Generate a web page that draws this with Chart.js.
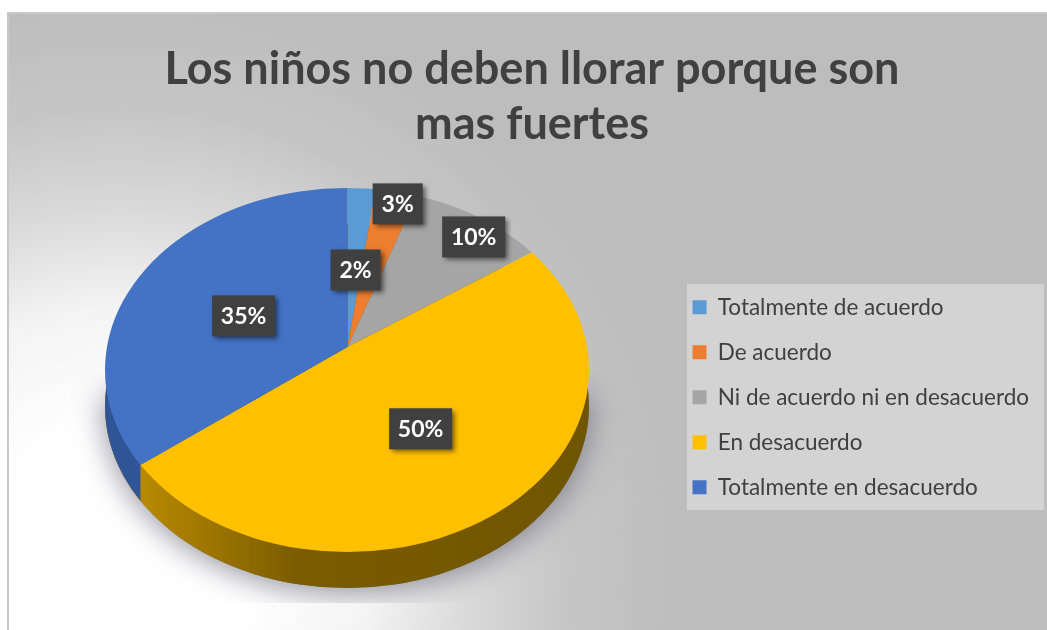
<!DOCTYPE html>
<html>
<head>
<meta charset="utf-8">
<style>
  html, body { margin: 0; padding: 0; background: #fff; overflow: hidden; }
  #wrap { position: absolute; left: 0; top: 0; width: 1047px; height: 630px; }
</style>
<script src="https://cdn.jsdelivr.net/npm/chart.js@4"></script>
</head>
<body>
<div id="wrap"><canvas id="pieChart" width="1047" height="630"></canvas></div>
<script>
const categories = [
  'Totalmente de acuerdo',
  'De acuerdo',
  'Ni de acuerdo ni en desacuerdo',
  'En desacuerdo',
  'Totalmente en desacuerdo'
];
const percentValues = [2, 3, 10, 50, 35];
const sliceColors = ['#5b9bd5', '#ed7d31', '#a5a5a5', '#ffc000', '#4472c4'];
const titleLines = ['Los niños no deben llorar porque son', 'mas fuertes'];

// how far out along each slice its label sits
const labelFractionX = [0.53, 0.95, 0.887, 0.514, 0.482];
const labelFractionY = [0.451, 0.857, 0.795, 0.533, 0.40];

// look of the tilted disc
const disc = { cx: 347, cy: 370, rx: 242, ry: 182, depth: 36 };
const squashUp = 0.707;
const squashDown = 0.784;

function ellipsePath(ctx, dy) {
  ctx.beginPath();
  ctx.ellipse(disc.cx, disc.cy + (dy || 0), disc.rx, disc.ry, 0, 0, Math.PI * 2);
}

// where a slice edge leaves the disc outline
function rimX(arc, angle) {
  let r = 0;
  while (r < 600) {
    const x = arc.x + Math.cos(angle) * r;
    const y = arc.y + Math.sin(angle) * r * (Math.sin(angle) > 0 ? squashDown : squashUp);
    const a = (x - disc.cx) / disc.rx, b = (y - disc.cy) / disc.ry;
    if (a * a + b * b > 1) return x;
    r += 0.5;
  }
  return arc.x;
}

const backdrop = {
  id: 'backdrop',
  beforeDraw(chart) {
    const ctx = chart.ctx;
    const bg = ctx.createRadialGradient(120, 560, 130, 120, 560, 560);
    bg.addColorStop(0, '#ffffff');
    bg.addColorStop(0.28, '#f4f4f4');
    bg.addColorStop(0.51, '#dadada');
    bg.addColorStop(0.74, '#c6c6c6');
    bg.addColorStop(1, '#bdbdbd');
    ctx.fillStyle = bg;
    ctx.fillRect(8, 13, 1039, 617);
    ctx.strokeStyle = '#c8c8c8';
    ctx.lineWidth = 2;
    ctx.strokeRect(8, 13, 1041, 621);

    // legend panel
    ctx.fillStyle = '#d3d3d3';
    ctx.fillRect(687, 284, 357, 226);
  }
};

// shadow fades in from the disc's middle and is cut flat at the bottom
function drawShadow(ctx) {
  const off = document.createElement('canvas');
  off.width = 1047;
  off.height = 630;
  const o = off.getContext('2d');
  o.shadowColor = 'rgba(85,85,105,0.65)';
  o.shadowBlur = 30;
  o.shadowOffsetY = 4;
  o.fillStyle = '#777';
  ellipsePath(o, disc.depth);
  o.fill();
  o.shadowColor = 'transparent';
  o.globalCompositeOperation = 'destination-in';
  const fade = o.createLinearGradient(0, disc.cy, 0, disc.cy + 45);
  fade.addColorStop(0, 'rgba(0,0,0,0)');
  fade.addColorStop(1, 'rgba(0,0,0,1)');
  o.fillStyle = fade;
  o.fillRect(0, disc.cy, 1047, 233);
  ctx.drawImage(off, 0, 0);
}

const tiltedPie = {
  id: 'tiltedPie',
  beforeDatasetsDraw(chart) {
    const ctx = chart.ctx;
    const arcs = chart.getDatasetMeta(0).data;
    const splitX = rimX(arcs[3], arcs[3].endAngle);

    drawShadow(ctx);

    // side wall
    ctx.save();
    const wall = ctx.createLinearGradient(140, 0, 589, 0);
    wall.addColorStop(0, '#b98a00');
    wall.addColorStop(0.35, '#7a5c00');
    wall.addColorStop(1, '#705500');
    ellipsePath(ctx, disc.depth);
    ctx.fillStyle = wall;
    ctx.fill();
    ctx.beginPath();
    ctx.rect(0, 0, splitX, 630);
    ctx.clip();
    ellipsePath(ctx, disc.depth);
    ctx.fillStyle = '#2f5597';
    ctx.fill();
    ctx.restore();

    // upper half of the top face
    const cx = arcs[0].x, cy = arcs[0].y;
    ctx.save();
    ellipsePath(ctx);
    ctx.clip();
    ctx.beginPath();
    ctx.rect(0, 0, 1047, cy);
    ctx.clip();
    ctx.translate(cx, cy);
    ctx.scale(1, squashUp);
    ctx.translate(-cx, -cy);
  },
  afterDatasetsDraw(chart) {
    const ctx = chart.ctx;
    const arcs = chart.getDatasetMeta(0).data;
    ctx.restore();

    // lower half of the top face
    const cx = arcs[0].x, cy = arcs[0].y;
    ctx.save();
    ellipsePath(ctx);
    ctx.clip();
    ctx.beginPath();
    ctx.rect(0, cy - 0.5, 1047, 630);
    ctx.clip();
    ctx.translate(cx, cy);
    ctx.scale(1, squashDown);
    ctx.translate(-cx, -cy);
    arcs.forEach(a => a.draw(ctx));
    ctx.restore();

    drawLabels(chart, arcs);
  }
};

function drawLabels(chart, arcs) {
  const ctx = chart.ctx;
  ctx.save();
  ctx.font = 'bold 23px Lato';
  ctx.textAlign = 'center';
  ctx.textBaseline = 'middle';
  arcs.forEach((arc, i) => {
    const mid = (arc.startAngle + arc.endAngle) / 2;
    const squash = Math.sin(mid) > 0 ? squashDown : squashUp;
    const x = arc.x + Math.cos(mid) * disc.rx * labelFractionX[i];
    const y = arc.y + Math.sin(mid) * disc.rx * squash * labelFractionY[i];
    const text = percentValues[i] + '%';
    const w = percentValues[i] >= 10 ? 63 : 50;
    ctx.save();
    ctx.shadowColor = 'rgba(0,0,0,0.55)';
    ctx.shadowBlur = 5;
    ctx.shadowOffsetX = 3;
    ctx.shadowOffsetY = 3;
    ctx.fillStyle = '#404040';
    ctx.fillRect(x - w / 2, y - 20.5, w, 41);
    ctx.restore();
    ctx.fillStyle = '#fff';
    ctx.fillText(text, x, y + 1);
  });
  ctx.restore();
}

new Chart(document.getElementById('pieChart'), {
  type: 'pie',
  data: {
    labels: categories,
    datasets: [{
      data: percentValues,
      backgroundColor: sliceColors,
      borderWidth: 0,
      radius: 300
    }]
  },
  options: {
    responsive: false,
    animation: false,
    layout: { padding: { left: 25, right: 8, top: 0, bottom: 109 } },
    plugins: {
      tooltip: { enabled: false },
      title: {
        display: true,
        text: titleLines,
        color: '#404040',
        font: { family: 'Lato', size: 45, weight: 'bold', lineHeight: 1.222 },
        padding: { top: 42, bottom: 21 }
      },
      legend: {
        position: 'right',
        align: 'end',
        labels: {
          color: '#404040',
          font: { family: 'Lato', size: 22.5 },
          boxWidth: 14,
          boxHeight: 14,
          padding: 22.5
        }
      }
    }
  },
  plugins: [backdrop, tiltedPie]
});
</script>
</body>
</html>
